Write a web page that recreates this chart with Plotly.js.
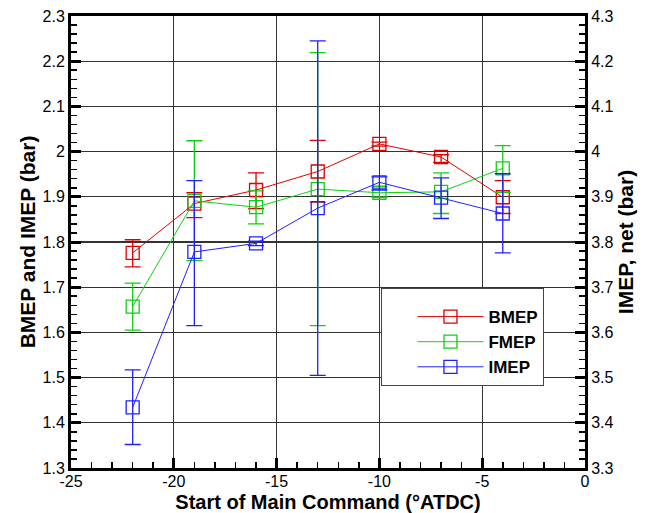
<!DOCTYPE html>
<html>
<head>
<meta charset="utf-8">
<script src="https://cdn.plot.ly/plotly-3.0.1.min.js"></script>
<style>
  html, body { margin: 0; padding: 0; background: #fff; }
  #chart { width: 645px; height: 513px; }
</style>
</head>
<body>
<div id="chart"></div>
<script>
// Start of main injection command (degrees ATDC)
const soi = [-22, -19, -16, -13, -10, -7, -4];

// Brake mean effective pressure (bar) with upper / lower spread
const bmep   = [1.776, 1.885, 1.915, 1.956, 2.017, 1.988, 1.899];
const bmepHi = [1.805, 1.909, 1.953, 2.025, 2.021, 1.993, 1.936];
const bmepLo = [1.745, 1.854, 1.874, 1.888, 2.012, 1.976, 1.863];

// Friction mean effective pressure (bar)
const fmep   = [1.657, 1.891, 1.877, 1.917, 1.909, 1.911, 1.963];
const fmepHi = [1.709, 2.024, 1.913, 2.219, 1.922, 1.953, 2.013];
const fmepLo = [1.605, 1.759, 1.840, 1.615, 1.899, 1.863, 1.910];

// Indicated mean effective pressure (bar)
const imep   = [1.434, 1.778, 1.797, 1.875, 1.932, 1.898, 1.863];
const imepHi = [1.517, 1.936, 1.802, 2.245, 1.944, 1.942, 1.951];
const imepLo = [1.352, 1.615, 1.792, 1.505, 1.915, 1.852, 1.776];

// Axis tick labels (plain hyphen minus)
const xTickVals = [-25, -20, -15, -10, -5, 0];
const xTickText = ['-25', '-20', '-15', '-10', '-5', '0'];

function series(name, y, hi, lo, color) {
  return {
    type: 'scatter', mode: 'lines+markers', name: name,
    x: soi, y: y,
    line: { color: color, width: 1 },
    marker: { symbol: 'square-open', size: 13, color: color, line: { width: 1.3, color: color } },
    error_y: {
      type: 'data', symmetric: false,
      array: hi.map((v, i) => v - y[i]),
      arrayminus: y.map((v, i) => v - lo[i]),
      color: color, thickness: 1.3, width: 8
    }
  };
}

const traces = [
  series('BMEP', bmep, bmepHi, bmepLo, '#e00000'),
  series('FMEP', fmep, fmepHi, fmepLo, '#10d010'),
  series('IMEP', imep, imepHi, imepLo, '#2020ff'),
  // carries the secondary (net IMEP) scale on the right
  { type: 'scatter', x: [], y: [], yaxis: 'y2', showlegend: false, hoverinfo: 'skip' }
];

const FONT = 'Liberation Sans, Arial, sans-serif';
const tickFont = { family: FONT, size: 16, color: '#000' };
const titleFont = { family: FONT, size: 21, color: '#000', weight: 'bold' };

const layout = {
  width: 645, height: 513,
  margin: { l: 71, r: 60, t: 16, b: 45 },
  paper_bgcolor: '#fff', plot_bgcolor: '#fff',
  showlegend: true,
  legend: {
    x: 0.604, y: 0.399, xanchor: 'left', yanchor: 'top',
    bgcolor: '#fff', bordercolor: '#444', borderwidth: 1,
    font: { family: FONT, size: 17, color: '#000', weight: 'bold' },
    title: { text: '&nbsp;', font: { family: FONT, size: 8 } },
    indentation: 30, itemwidth: 66, tracegroupgap: 0
  },
  xaxis: {
    range: [-25, 0], tickvals: xTickVals, ticktext: xTickText,
    ticks: 'inside', ticklen: 10, tickwidth: 3, tickcolor: '#000',
    ticklabelstandoff: -3,
    minor: { dtick: 1, ticks: 'inside', ticklen: 6, tickwidth: 1.5, tickcolor: '#000', showgrid: false },
    showline: true, linewidth: 3, linecolor: '#000', mirror: true,
    showgrid: true, gridcolor: '#333', gridwidth: 1.2,
    zeroline: false, tickfont: tickFont,
    title: { text: 'Start of Main Command (°ATDC)', font: { family: FONT, size: 20, color: '#000', weight: 'bold' }, standoff: 6 }
  },
  yaxis: {
    range: [1.3, 2.3], dtick: 0.1, tick0: 1.3,
    ticks: 'inside', ticklen: 10, tickwidth: 3, tickcolor: '#000',
    minor: { dtick: 0.02, ticks: 'inside', ticklen: 6, tickwidth: 1.5, tickcolor: '#000', showgrid: false },
    showline: true, linewidth: 3, linecolor: '#000',
    showgrid: true, gridcolor: '#333', gridwidth: 1.2,
    zeroline: false, tickfont: tickFont,
    title: { text: 'BMEP and IMEP (bar)', font: titleFont, standoff: 2 }
  },
  yaxis2: {
    overlaying: 'y', side: 'right',
    range: [3.3, 4.3], dtick: 0.1, tick0: 3.3,
    ticks: 'inside', ticklen: 10, tickwidth: 3, tickcolor: '#000',
    minor: { dtick: 0.02, ticks: 'inside', ticklen: 6, tickwidth: 1.5, tickcolor: '#000', showgrid: false },
    showline: true, linewidth: 3, linecolor: '#000',
    showgrid: false, zeroline: false, tickfont: tickFont,
    title: { text: 'IMEP, net (bar)', font: titleFont, standoff: 5 }
  }
};

Plotly.newPlot('chart', traces, layout, { staticPlot: true, displayModeBar: false });
</script>
</body>
</html>
